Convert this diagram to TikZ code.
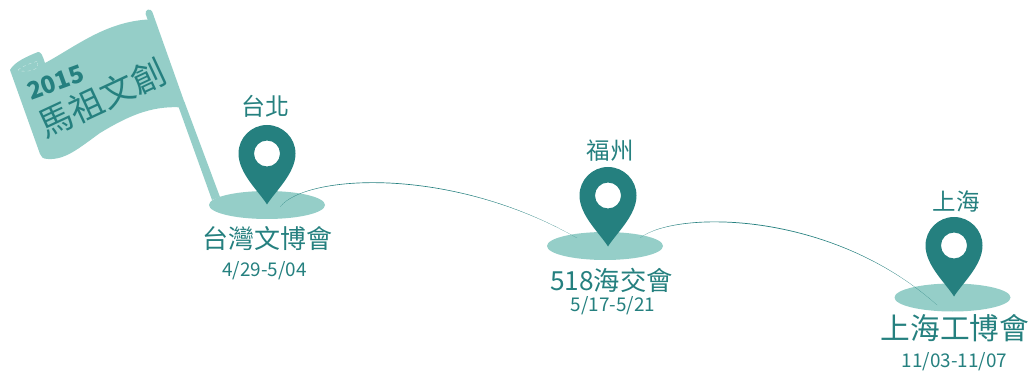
\documentclass[tikz,border=0pt]{standalone}
\usepackage{fontspec}
\setmainfont{Noto Sans CJK TC}
\usetikzlibrary{shapes.geometric}
\definecolor{teal1}{HTML}{25807F}
\definecolor{mint}{HTML}{95CEC8}
\tikzset{
  x=1pt,y=-1pt,
  base/.style={ellipse,fill=mint,inner sep=0pt,minimum width=116pt,minimum height=28pt},
  lbl/.style={text=teal1,inner sep=0pt,font=\fontsize{#1}{#1}\selectfont},
  arcline/.style={fill=teal1,draw=none},
  pinmark/.pic={
    \fill[teal1,even odd rule] (0,51) .. controls (-8,38) and (-28.5,20) .. (-28.5,0)
      .. controls (-28.5,-15.7) and (-15.7,-28.5) .. (0,-28.5)
      .. controls (15.7,-28.5) and (28.5,-15.7) .. (28.5,0)
      .. controls (28.5,20) and (8,38) .. (0,51) -- cycle
      (13,0) arc[start angle=0,end angle=360,radius=13];
  }
}
\begin{document}
\begin{tikzpicture}
\useasboundingbox (0,0) rectangle (1028,374);
% flag pole and cloth
\draw[mint,line width=7pt,line cap=round] (149,13) -- (181,103);
\fill[mint] (177.5,104) -- (184.5,102) -- (220,197) -- (212,200) -- cycle;
\fill[mint] (10,70) .. controls (14,62) and (28,56) .. (38,52)
  .. controls (41,52) and (42,54) .. (45,63)
  .. controls (75,47) and (105,22) .. (148,19.5)
  -- (182,107.5)
  .. controls (150,105) and (125,118) .. (100,133)
  .. controls (78,149) and (65,160) .. (48,159)
  .. controls (43,159) and (41,157) .. (40,154)
  -- cycle;
\draw[white,opacity=.55,line width=.35pt,dashed] (18,70) .. controls (24,65) and (32,63) .. (38,61) -- (37,68) .. controls (30,72) and (22,72) .. (18,70);
\node[lbl=24,rotate=20,font=\bfseries\fontsize{24}{24}\selectfont] (yr) at (55.5,82) {2015};
\node[lbl=34,rotate=25,text=teal1] (title) at (102,98) {馬祖文創};
% bases
\node[base] (e1) at (267,205) {};
\node[base] (e2) at (605,246) {};
\node[base] (e3) at (952.5,297.5) {};
% connectors
\coordinate (a1) at (280,207);
\coordinate (a2) at (577,238);
\coordinate (b1) at (640,238);
\coordinate (b2) at (937,305);
\fill[arcline] (a1) .. controls (305,174) and (450,165) .. (a2)
  .. controls (450,165.9) and (305,174.9) .. (a1) -- cycle;
\fill[arcline] (b1) .. controls (675,210) and (830,209) .. (b2)
  .. controls (830,210) and (675,211) .. (b1) -- cycle;
% pins
\pic at (267,153.5) {pinmark};
\pic at (608,195.5) {pinmark};
\pic at (954,245.5) {pinmark};
% labels
\node[lbl=24] (c1) at (265.5,106) {台北};
\node[lbl=23.5] (c2) at (610,151) {福州};
\node[lbl=23.5] (c3) at (956,201) {上海};
\node[lbl=26] (n1) at (267.5,239) {台灣文博會};
\node[lbl=18.9] (d1) at (264.5,271) {4/29-5/04};
\node[lbl=26.3] (n2) at (611.5,280) {518海交會};
\node[lbl=18.9] (d2) at (613,305.5) {5/17-5/21};
\node[lbl=29.7] (n3) at (955,328) {上海工博會};
\node[lbl=18.9] (d3) at (954.5,361.5) {11/03-11/07};
\end{tikzpicture}
\end{document}
